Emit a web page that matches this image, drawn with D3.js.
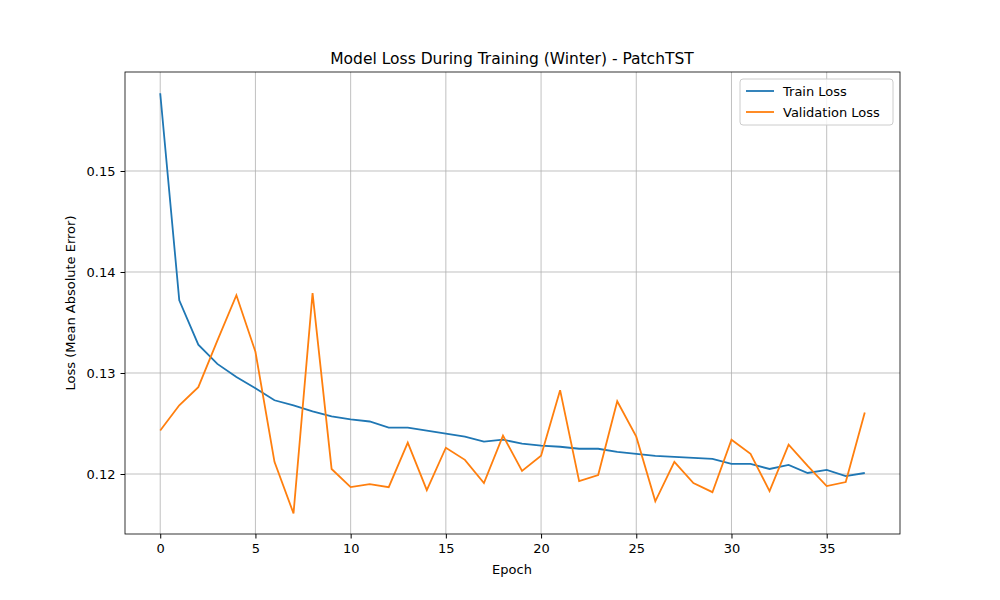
<!DOCTYPE html>
<html>
<head>
<meta charset="utf-8">
<script src="https://cdn.jsdelivr.net/npm/d3@7"></script>
<style>
  body { margin: 0; background: #fff; }
  text { font-family: "DejaVu Sans", sans-serif; }
</style>
</head>
<body>
<div id="chart-area"></div>
<script>
'use strict';
const svg_width = 1000;
const svg_height = 600;
const margin = {left: 125, right: 100, top: 72, bottom: 66};

const train_loss = [0.1577, 0.1372, 0.1328, 0.1309, 0.1296, 0.1285, 0.1273, 0.1268, 0.1262, 0.1257,
  0.1254, 0.1252, 0.1246, 0.1246, 0.1243, 0.1240, 0.1237, 0.1232, 0.1234, 0.1230,
  0.1228, 0.1227, 0.1225, 0.1225, 0.1222, 0.1220, 0.1218, 0.1217, 0.1216, 0.1215,
  0.1210, 0.1210, 0.1205, 0.1209, 0.1201, 0.1204, 0.1198, 0.1201];
const val_loss = [0.1243, 0.1268, 0.1286, 0.1332, 0.1377, 0.1321, 0.1212, 0.1161, 0.1379, 0.1205,
  0.1187, 0.1190, 0.1187, 0.1231, 0.1184, 0.1226, 0.1214, 0.1191, 0.1238, 0.1203,
  0.1218, 0.1283, 0.1193, 0.1199, 0.1272, 0.1237, 0.1173, 0.1212, 0.1191, 0.1182,
  0.1234, 0.1220, 0.1183, 0.1229, 0.1208, 0.1188, 0.1192, 0.1261];
const x_ticks = [0, 5, 10, 15, 20, 25, 30, 35];
const y_ticks = [0.12, 0.13, 0.14, 0.15];
const series = [
  {name: 'Train Loss', values: train_loss, color: '#1f77b4'},
  {name: 'Validation Loss', values: val_loss, color: '#ff7f0e'}
];

const svg = d3.select('#chart-area').append('svg')
  .attr('width', svg_width).attr('height', svg_height);

const x_scale = d3.scaleLinear().domain([-1.85, 38.85])
  .range([margin.left, svg_width - margin.right]);
const y_scale = d3.scaleLinear().domain([0.11406, 0.1598])
  .range([svg_height - margin.bottom, margin.top]);

// grid
svg.append('g').selectAll('line').data(x_ticks).enter().append('line')
  .attr('x1', d => x_scale(d)).attr('x2', d => x_scale(d))
  .attr('y1', margin.top).attr('y2', svg_height - margin.bottom)
  .attr('stroke', '#b0b0b0').attr('stroke-width', 0.8);
svg.append('g').selectAll('line').data(y_ticks).enter().append('line')
  .attr('y1', d => y_scale(d)).attr('y2', d => y_scale(d))
  .attr('x1', margin.left).attr('x2', svg_width - margin.right)
  .attr('stroke', '#b0b0b0').attr('stroke-width', 0.8);

const line = d3.line().x((d, i) => x_scale(i)).y(d => y_scale(d));
series.forEach(s => {
  svg.append('path').datum(s.values)
    .attr('d', line).attr('fill', 'none')
    .attr('stroke', s.color).attr('stroke-width', 1.8);
});

// frame
svg.append('rect')
  .attr('x', margin.left).attr('y', margin.top)
  .attr('width', svg_width - margin.left - margin.right)
  .attr('height', svg_height - margin.top - margin.bottom)
  .attr('fill', 'none').attr('stroke', '#000').attr('stroke-width', 0.8);

const x_axis = d3.axisBottom(x_scale).tickValues(x_ticks).tickSize(4.5).tickPadding(5);
const y_axis = d3.axisLeft(y_scale).tickValues(y_ticks).tickFormat(d3.format('.2f')).tickSize(4.5).tickPadding(5);
svg.append('g').attr('transform', `translate(0,${svg_height - margin.bottom})`).call(x_axis)
  .call(g => g.select('.domain').remove())
  .selectAll('text').attr('font-size', 13).attr('font-family', 'DejaVu Sans');
svg.append('g').attr('transform', `translate(${margin.left},0)`).call(y_axis)
  .call(g => g.select('.domain').remove())
  .selectAll('text').attr('font-size', 13).attr('font-family', 'DejaVu Sans');

svg.append('text').attr('x', 512).attr('y', 64).attr('text-anchor', 'middle')
  .attr('font-size', 15.5).text('Model Loss During Training (Winter) - PatchTST');
svg.append('text').attr('x', 512).attr('y', 574).attr('text-anchor', 'middle')
  .attr('font-size', 13).text('Epoch');
svg.append('text').attr('transform', 'translate(75,303) rotate(-90)').attr('text-anchor', 'middle')
  .attr('font-size', 13).text('Loss (Mean Absolute Error)');

// legend
const lg = svg.append('g').attr('transform', 'translate(740,79)');
lg.append('rect').attr('width', 153).attr('height', 46).attr('rx', 3)
  .attr('fill', '#fff').attr('fill-opacity', 0.8).attr('stroke', '#ccc');
series.forEach((s, i) => {
  const y = 12 + i * 21;
  lg.append('line').attr('x1', 6).attr('x2', 34).attr('y1', y).attr('y2', y)
    .attr('stroke', s.color).attr('stroke-width', 1.8);
  lg.append('text').attr('x', 43).attr('y', y + 4.5).attr('font-size', 13).text(s.name);
});
</script>
</body>
</html>
